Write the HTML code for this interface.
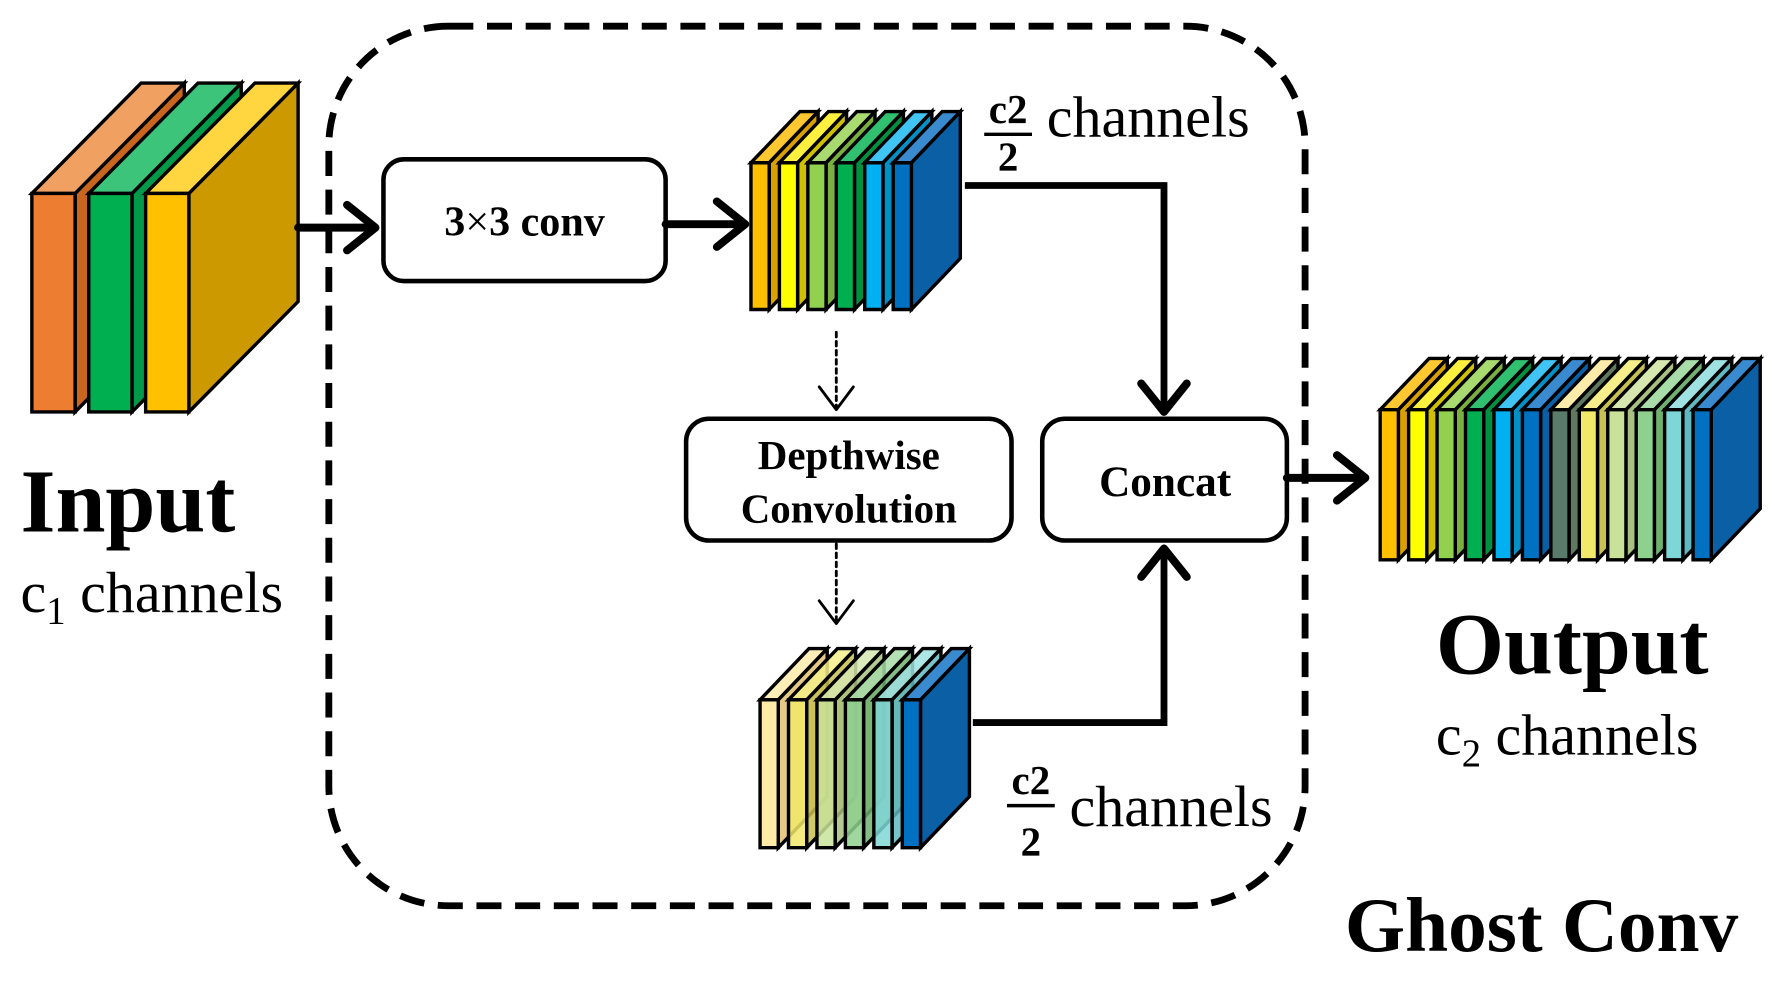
<!DOCTYPE html>
<html><head><meta charset="utf-8"><style>
html,body{margin:0;padding:0;background:#fff;}
svg{display:block;}
text{font-family:"Liberation Serif",serif;fill:#000;}
</style></head><body>
<svg id="s" width="1775" height="982" viewBox="0 0 1560 863" xmlns="http://www.w3.org/2000/svg">
<rect x="0" y="0" width="1560" height="863" fill="#fff"/>
<rect x="289" y="23" width="858" height="773" rx="105" ry="105" fill="none" stroke="#000" stroke-width="6" stroke-dasharray="22 12"/>
<g id="slabs"></g>
<g fill="none" stroke="#000" stroke-linecap="round" stroke-linejoin="round">
  <line x1="262" y1="200" x2="328" y2="200" stroke-width="7"/>
  <polyline points="305,180 330,200 305,220" stroke-width="7"/>
  <rect x="337" y="140" width="248" height="107" rx="18" stroke-width="4" fill="#fff"/>
  <line x1="585" y1="197" x2="653" y2="197" stroke-width="7"/>
  <polyline points="630,177 655,197 630,217" stroke-width="7"/>
  <polyline points="848,163 1023,163 1023,362" stroke-width="6" stroke-linecap="butt" stroke-linejoin="miter"/>
  <polyline points="1003,337 1023,362 1043,337" stroke-width="7"/>
  <line x1="735" y1="292" x2="735" y2="358" stroke-width="2.5" stroke-dasharray="4 4"/>
  <polyline points="720,340 735,360 750,340" stroke-width="2.5"/>
  <rect x="603" y="368" width="286" height="107" rx="20" stroke-width="4" fill="#fff"/>
  <line x1="735" y1="478" x2="735" y2="545" stroke-width="2.5" stroke-dasharray="4 4"/>
  <polyline points="720,528 735,548 750,528" stroke-width="2.5"/>
  <rect x="916" y="368" width="215" height="107" rx="20" stroke-width="4" fill="#fff"/>
  <polyline points="855,635 1023,635 1023,482" stroke-width="6" stroke-linecap="butt" stroke-linejoin="miter"/>
  <polyline points="1003,507 1023,482 1043,507" stroke-width="7"/>
  <line x1="1131" y1="420" x2="1198" y2="420" stroke-width="7"/>
  <polyline points="1175,400 1200,420 1175,440" stroke-width="7"/>
</g>
<text x="461" y="207" font-size="37" font-weight="bold" text-anchor="middle">3<tspan font-weight="normal">×</tspan>3 conv</text>
<text x="746" y="412" font-size="36" font-weight="bold" text-anchor="middle">Depthwise</text>
<text x="746" y="459" font-size="36" font-weight="bold" text-anchor="middle">Convolution</text>
<text x="1024" y="436" font-size="38" font-weight="bold" text-anchor="middle">Concat</text>
<text x="886" y="108" font-size="36" font-weight="bold" text-anchor="middle">c2</text>
<line x1="865" y1="118" x2="907" y2="118" stroke="#000" stroke-width="3"/>
<text x="886" y="150" font-size="36" font-weight="bold" text-anchor="middle">2</text>
<text x="920" y="120" font-size="51">channels</text>
<text x="906" y="698" font-size="36" font-weight="bold" text-anchor="middle">c2</text>
<line x1="885" y1="708" x2="927" y2="708" stroke="#000" stroke-width="3"/>
<text x="906" y="752" font-size="36" font-weight="bold" text-anchor="middle">2</text>
<text x="940" y="726" font-size="51">channels</text>
<text x="18" y="467" font-size="79" font-weight="bold">Input</text>
<text x="18" y="538" font-size="51">c<tspan font-size="34" dy="10">1</tspan><tspan dy="-10"> channels</tspan></text>
<text x="1262" y="592" font-size="77" font-weight="bold">Output</text>
<text x="1262" y="663" font-size="51">c<tspan font-size="34" dy="10">2</tspan><tspan dy="-10"> channels</tspan></text>
<text x="1182" y="836" font-size="68" font-weight="bold">Ghost Conv</text>
</svg>
<script>
(function(){
var g=document.getElementById('slabs'),NS='http://www.w3.org/2000/svg';
function poly(pts,fill,op){var p=document.createElementNS(NS,'polygon');p.setAttribute('points',pts.map(function(a){return a.join(',')}).join(' '));p.setAttribute('fill',fill);p.setAttribute('stroke','#000');p.setAttribute('stroke-width','3');p.setAttribute('stroke-linejoin','miter');if(op)p.setAttribute('fill-opacity',op);g.appendChild(p);}
function slab(x,y,w,h,dx,dy,f,t,s,op){
 poly([[x+w,y],[x+w+dx,y-dy],[x+w+dx,y-dy+h],[x+w,y+h]],s,op);
 poly([[x,y],[x+dx,y-dy],[x+w+dx,y-dy],[x+w,y]],t,op);
 poly([[x,y],[x+w,y],[x+w,y+h],[x,y+h]],f,op);}
slab(28,170,38,192,96,97,'#ED7D31','#F0A060','#C8651E');
slab(78,170,38,192,96,97,'#00B050','#3CC47A','#00994A');
slab(128,170,38,192,96,97,'#FFC000','#FFD540','#CC9900');
var tops=[['#FFC000','#FFC830','#D9A000'],['#FFFF00','#FFF040','#D0C000'],['#92D050','#A8DA70','#7AB040'],['#00B050','#30C070','#009040'],['#00B0F0','#40C4F4','#0090C8'],['#0070C0','#3A8AD0','#0B5FA5']];
tops.forEach(function(c,i){slab(660+25*i,143,16,129,43,45,c[0],c[1],c[2]);});
var bot=[['#FFE699','#FFEBAA','#E0C070'],['#F2E86A','#F5EE8A','#C8C050'],['#C9E29A','#D6E8B0','#A8C080'],['#8ED08E','#A8DCA8','#70B070'],['#7FD6D6','#A0E2E2','#60B8C0'],['#0070C0','#3A8AD0','#0B5FA5']];
bot.forEach(function(c,i){slab(668+25*i,615,16,130,43,45,c[0],c[1],c[2],i<5?0.85:null);});
var out=tops.concat([['#5A7A6A','#FFEBAA','#607860'],['#F2E86A','#F5EE8A','#C8C050'],['#C9E29A','#D6E8B0','#A8C080'],['#8ED08E','#A8DCA8','#70B070'],['#7FD6D6','#A0E2E2','#60B8C0'],['#0070C0','#3A8AD0','#0B5FA5']]);
out.forEach(function(c,i){slab(1213+25*i,360,16,132,43,45,c[0],c[1],c[2]);});
})();
</script>
</body></html>
